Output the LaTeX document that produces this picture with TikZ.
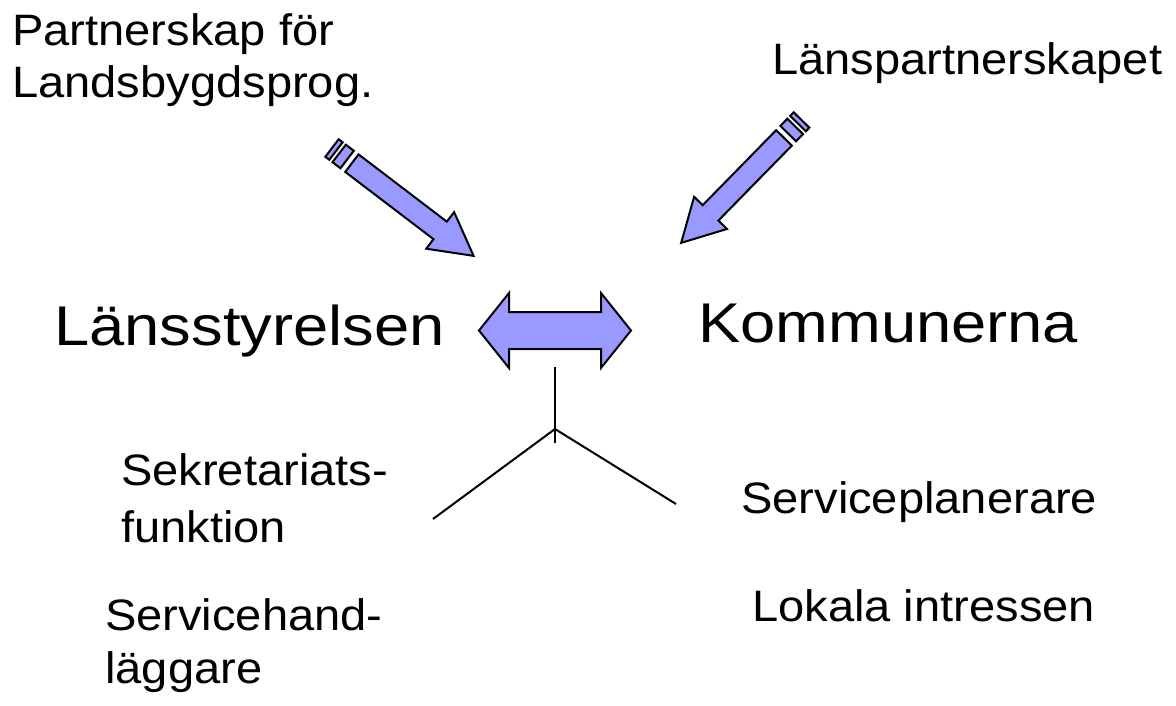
\documentclass[tikz,border=0pt]{standalone}
\usepackage{fontspec}
\usetikzlibrary{calc}
\setmainfont[FakeStretch=1.07]{Liberation Sans}
\newfontfamily\bigfont[FakeStretch=1.13]{Liberation Sans}
\definecolor{arrowblue}{RGB}{153,153,255}

% striped block arrow: rear point, angle, length
\newcommand{\stripedarrow}[3]{%
  \begin{scope}[shift={#1}, rotate=#2]
    \foreach \a/\b in {0/5, 9/19} {
      \filldraw[arrowpart] (\a,-11) rectangle (\b,11);
    }
    \filldraw[arrowpart] (25,-11) -- (#3-42,-11) -- (#3-42,-23) -- (#3,0)
      -- (#3-42,23) -- (#3-42,11) -- (25,11) -- cycle;
  \end{scope}}

\begin{document}
\begin{tikzpicture}[x=1pt, y=-1pt, line join=miter,
    arrowpart/.style={fill=arrowblue, draw=black, line width=2pt},
    smalltext/.style={font=\fontsize{44}{53}\selectfont, inner sep=0pt, align=left, anchor=base west},
    bigtext/.style={font=\bigfont\fontsize{56}{60}\selectfont, inner sep=0pt, anchor=base west},
    treeline/.style={black, line width=2pt}]

        \useasboundingbox (0,0) rectangle (1176,705);

        % titles at the top (multi-line nodes sit on their last line)
        \node[smalltext, font=\fontsize{44}{52}\selectfont] (partner) at (12,97) {Partnerskap för\\Landsbygdsprog.};
        \node[smalltext] (lanspart) at (772,74) {Länspartnerskapet};

        % the two main actors
        \node[bigtext] (lst) at (54,345) {Länsstyrelsen};
        \node[bigtext] (kom) at (698,342) {Kommunerna};

        % striped arrows towards the middle
        \stripedarrow{(332,148)}{-37.3}{178}
        \stripedarrow{(801.5,120)}{-134.4}{172}

        % double arrow between Länsstyrelsen and Kommunerna
        \coordinate (dl) at (479,330.5);
        \coordinate (dr) at (631,330.5);
        \filldraw[arrowpart] (dl) -- ($(dl)+(30,-37.5)$) -- ($(dl)+(30,-18.5)$)
          -- ($(dr)+(-30,-18.5)$) -- ($(dr)+(-30,-37.5)$) -- (dr)
          -- ($(dr)+(-30,37.5)$) -- ($(dr)+(-30,18.5)$)
          -- ($(dl)+(30,18.5)$) -- ($(dl)+(30,37.5)$) -- cycle;

        % fork below the double arrow
        \coordinate (stemtop) at (555,367);
        \coordinate (fork) at (555,429);
        \coordinate (stembot) at (555,443);
        \coordinate (leftend) at (433,519);
        \coordinate (rightend) at (676,504);
        \draw[treeline] (stemtop) -- (stembot);
        \draw[treeline] (leftend) -- (fork) -- (rightend);

        % roles on each side
        \node[smalltext, font=\fontsize{44}{57}\selectfont] (sekr) at (121,542) {Sekretariats-\\funktion};
        \node[smalltext] (servh) at (105,683) {Servicehand-\\läggare};
        \node[smalltext] (servp) at (741,513) {Serviceplanerare};
        \node[smalltext] (lokal) at (752,621) {Lokala intressen};

\end{tikzpicture}
\end{document}
